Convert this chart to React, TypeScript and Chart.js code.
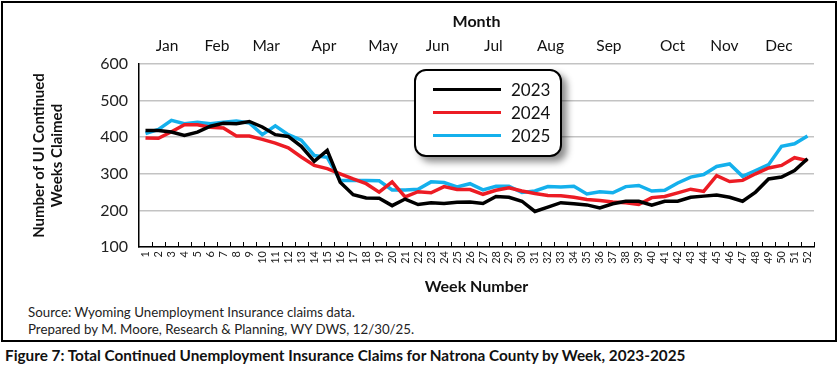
import React, { useEffect, useRef } from "react";
import { Chart, registerables } from "chart.js";
Chart.register(...registerables);

const FONT = "Lato, 'Open Sans', sans-serif";

const weeks = ["1","2","3","4","5","6","7","8","9","10","11","12","13","14","15","16","17","18","19","20","21","22","23","24","25","26","27","28","29","30","31","32","33","34","35","36","37","38","39","40","41","42","43","44","45","46","47","48","49","50","51","52"];

const seriesNames = ["2023", "2024", "2025"];
const seriesColors = ["#000000", "#ec1c24", "#14b0ec"];

const claims2023 = [418,418,414,405,414,430,438,437,443,428,407,402,375,334,364,277,243,234,233,213,231,216,221,219,222,223,219,238,236,225,197,209,221,218,215,207,218,225,225,214,225,225,236,239,242,236,225,250,286,291,309,341];
const claims2024 = [398,397,415,434,434,427,425,403,403,394,384,371,346,323,314,300,286,273,250,278,237,251,248,265,257,257,244,255,262,253,246,241,240,236,230,227,223,221,216,235,238,248,258,252,295,279,282,300,316,323,344,336];
const claims2025 = [410,421,446,437,441,437,441,444,439,407,431,407,392,350,345,282,282,282,281,256,256,258,278,276,264,273,256,266,266,249,253,265,264,266,245,251,248,265,268,253,255,275,291,298,320,327,293,309,325,375,382,403];

const monthLabels = ["Jan","Feb","Mar","Apr","May","Jun","Jul","Aug","Sep","Oct","Nov","Dec"];
const monthWeekPositions = [2.66, 6.5, 10.3, 14.75, 19.3, 23.5, 27.8, 32.2, 36.7, 41.6, 45.6, 49.8];

const yTicks = [100, 200, 300, 400, 500, 600];

const insideTicks = {
  id: "insideTicks",
  afterDraw(chart: any) {
    const { ctx, chartArea } = chart;
    const n = weeks.length;
    const w = (chartArea.right - chartArea.left) / n;
    ctx.save();
    ctx.strokeStyle = "#000";
    ctx.lineWidth = 1;
    for (let i = 1; i <= n; i++) {
      const x = Math.round(chartArea.left + i * w) + 0.5;
      ctx.beginPath();
      ctx.moveTo(x, chartArea.bottom);
      ctx.lineTo(x, chartArea.bottom - 5);
      ctx.stroke();
    }
    ctx.restore();
  },
};

export default function App() {
  const ref = useRef<HTMLCanvasElement>(null);
  useEffect(() => {
    document.body.style.margin = "0";
    const data = [claims2023, claims2024, claims2025];
    const chart = new Chart(ref.current!, {
      type: "line",
      data: {
        labels: weeks,
        datasets: seriesNames.map((name, i) => ({
          label: name,
          data: data[i],
          borderColor: seriesColors[i],
          backgroundColor: seriesColors[i],
          borderWidth: 3.5,
          pointRadius: 0,
          tension: 0,
          xAxisID: "x",
          yAxisID: "y",
        })),
      },
      options: {
        responsive: false,
        animation: false,
        devicePixelRatio: 1,
        layout: { padding: { left: 0, right: 21, top: 0, bottom: 0 } },
        plugins: { legend: { display: false }, tooltip: { enabled: false } },
        scales: {
          x: {
            type: "category",
            position: "bottom",
            offset: true,
            grid: { display: false, drawTicks: false },
            border: { display: true, color: "#000", width: 1.5 },
            ticks: {
              autoSkip: false,
              minRotation: 90,
              maxRotation: 90,
              padding: 4,
              color: "#222",
              font: { family: FONT, size: 11 },
            },
            title: {
              display: true,
              text: "Week Number",
              color: "#111",
              font: { family: FONT, size: 16, weight: "bold" },
              padding: { top: 0, bottom: 7 },
            },
            afterFit: (s: any) => { s.height = 56; },
          },
          xTop: {
            type: "linear",
            position: "top",
            min: 0.5,
            max: 52.5,
            grid: { display: false, drawTicks: false },
            border: { display: false },
            afterBuildTicks: (s: any) => { s.ticks = monthWeekPositions.map((v) => ({ value: v })); },
            ticks: {
              autoSkip: false,
              maxRotation: 0,
              padding: 9,
              color: "#111",
              font: { family: FONT, size: 15.5 },
              callback: (_v: any, i: number) => monthLabels[i],
            },
            title: {
              display: true,
              text: "Month",
              color: "#111",
              font: { family: FONT, size: 16, weight: "bold" },
              padding: { top: 9, bottom: 0 },
            },
            afterFit: (s: any) => { s.height = 61; },
          },
          y: {
            type: "linear",
            position: "left",
            min: 100,
            max: 600,
            afterBuildTicks: (s: any) => { s.ticks = yTicks.map((v) => ({ value: v })); },
            grid: { color: "#c3c3c3", lineWidth: 1.5, drawTicks: false },
            border: { display: true, color: "#000", width: 1.5 },
            ticks: {
              padding: 11,
              color: "#222",
              font: { family: FONT, size: 16 },
            },
            title: {
              display: true,
              text: ["Number of UI Continued", "Weeks Claimed"],
              color: "#111",
              font: { family: FONT, size: 15, weight: "bold" },
              padding: { top: 27, bottom: 0 },
            },
            afterFit: (s: any) => { s.width = 136; },
          },
        },
      },
      plugins: [insideTicks],
    } as any);
    return () => chart.destroy();
  }, []);

  return (
    <div style={{ position: "relative", width: 840, height: 374, fontFamily: FONT, background: "#fff", overflow: "hidden" }}>
      <div style={{ position: "absolute", left: 1, top: 1, width: 836, height: 341, border: "2px solid #000", boxSizing: "border-box" }} />
      <canvas ref={ref} width={832} height={300} style={{ position: "absolute", left: 3, top: 3, width: 832, height: 300 }} />
      <div
        style={{
          position: "absolute", left: 414, top: 69, width: 148, height: 88,
          border: "2px solid #000", borderRadius: 12, boxSizing: "border-box", background: "#fff",
          boxShadow: "5px 5px 7px rgba(0,0,0,0.45)",
        }}
      >
        {seriesNames.map((n, i) => (
          <div key={n} style={{ position: "absolute", left: 17, top: 7 + i * 23, height: 22, display: "flex", alignItems: "center" }}>
            <div style={{ width: 68, height: 3, background: seriesColors[i] }} />
            <span style={{ marginLeft: 10, fontSize: 17, color: "#111" }}>{n}</span>
          </div>
        ))}
      </div>
      <div style={{ position: "absolute", left: 28, top: 304, fontSize: 13.3, color: "#222", lineHeight: "17px" }}>
        <div>Source: Wyoming Unemployment Insurance claims data.</div>
        <div>Prepared by M. Moore, Research &amp; Planning, WY DWS, 12/30/25.</div>
      </div>
      <div style={{ position: "absolute", left: 5, top: 345, fontSize: 15.3, fontWeight: "bold", color: "#111", lineHeight: "20px" }}>
        Figure 7: Total Continued Unemployment Insurance Claims for Natrona County by Week, 2023-2025
      </div>
    </div>
  );
}
